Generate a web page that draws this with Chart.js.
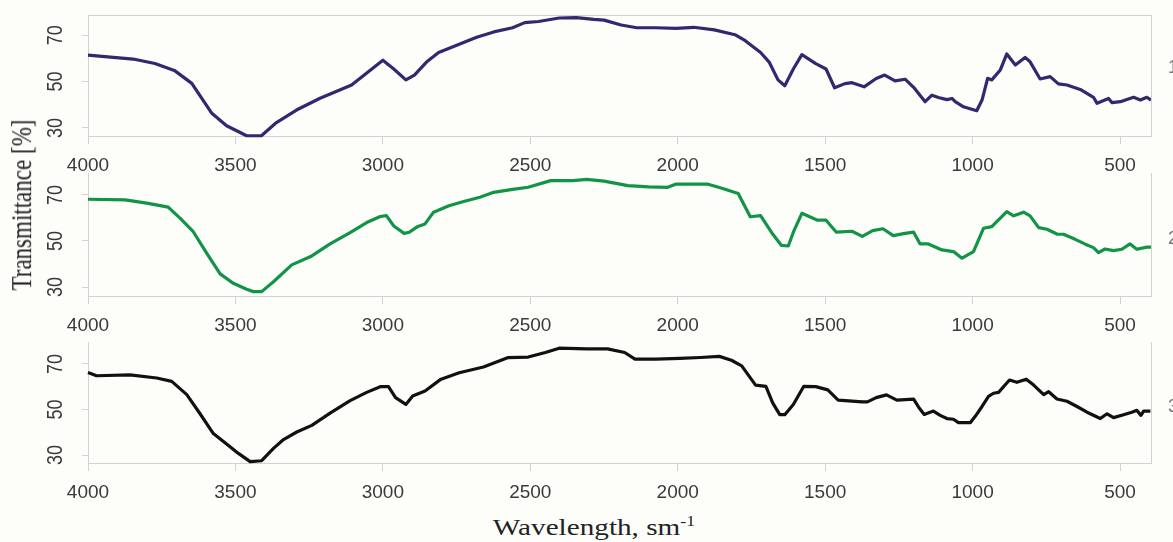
<!DOCTYPE html>
<html>
<head>
<meta charset="utf-8">
<script src="https://cdn.jsdelivr.net/npm/chart.js@4.4.1/dist/chart.umd.min.js"></script>
<style>
  html, body { margin: 0; padding: 0; background: #fdfdfa; overflow: hidden; }
  body { width: 1173px; height: 542px; position: relative; }
  .panel { position: absolute; left: 0; width: 1173px; }
  #ytitle {
    position: absolute; left: 22px; top: 205px; white-space: nowrap;
    font: 23px "Liberation Serif", "Times New Roman", serif; color: #222; line-height: 1;
    transform: translate(-50%, -50%) scaleX(1.27) rotate(-90deg);
  }
  #xtitle {
    position: absolute; left: 594px; top: 516px; white-space: nowrap;
    font: 23px "Liberation Serif", "Times New Roman", serif; color: #222; line-height: 1;
    transform: translateX(-50%) scaleX(1.27);
  }
  #xtitle sup { font-size: 14px; line-height: 0; vertical-align: 9px; }
  .tag {
    position: absolute; left: 1168px; font: 18px "Liberation Sans", Arial, sans-serif; color: #777;
  }
</style>
</head>
<body>
<div class="panel" style="top:0;height:176px"><canvas id="c1"></canvas></div>
<div class="panel" style="top:173px;height:163px"><canvas id="c2"></canvas></div>
<div class="panel" style="top:342px;height:161px"><canvas id="c3"></canvas></div>
<div id="ytitle">Transmittance [%]</div>
<div id="xtitle">Wavelength, sm<sup>-1</sup></div>
<div class="tag" style="top:57px">1</div>
<div class="tag" style="top:228px">2</div>
<div class="tag" style="top:396px">3</div>
<script>
// tick values
const xTicks = [4000, 3500, 3000, 2500, 2000, 1500, 1000, 500];
const yTicks = [30, 50, 70];

// sample 1 (top, purple)
const wn1 = [4000, 3847, 3773, 3705, 3648, 3580, 3530, 3462, 3412, 3361, 3293, 3213, 3106, 3000,
  2963, 2922, 2893, 2852, 2811, 2741, 2682, 2624, 2560, 2519, 2472, 2402, 2344, 2285, 2250, 2192,
  2139, 2075, 2005, 1946, 1876, 1806, 1771, 1719, 1690, 1660, 1637, 1608, 1579, 1532, 1497, 1468,
  1433, 1409, 1368, 1327, 1298, 1263, 1229, 1200, 1161, 1138, 1116, 1087, 1070, 1059, 1031, 986,
  968, 949, 935, 906, 884, 855, 822, 805, 771, 737, 709, 680, 635, 590, 578, 539, 527, 499, 454,
  431, 409, 395];
const tr1 = [61.4, 59.7, 57.8, 54.6, 49.2, 36.3, 30.9, 26.6, 26.6, 32.3, 37.7, 42.8, 48.5, 59.2,
  55.4, 50.7, 52.8, 58.4, 62.5, 66.1, 69.1, 71.4, 73.2, 75.4, 75.9, 77.4, 77.6, 76.8, 76.5, 74.4,
  73.2, 73.2, 72.9, 73.4, 72.3, 70.2, 67.6, 62.5, 58.4, 50.7, 48.2, 55.4, 61.6, 57.7, 55.4, 47.3,
  49.1, 49.5, 47.7, 51.3, 52.8, 50.3, 51.0, 47.5, 41.3, 44.1, 43.1, 42.2, 42.7, 41.3, 39.1, 37.4,
  42.0, 51.4, 50.7, 55.0, 61.9, 57.1, 60.4, 58.5, 51.1, 52.1, 49.0, 48.5, 46.6, 43.2, 40.6, 42.7,
  40.9, 41.3, 43.2, 42.0, 43.2, 42.0];

// sample 2 (middle, green)
const wn2 = [4000, 3874, 3801, 3728, 3688, 3643, 3597, 3552, 3507, 3462, 3439, 3411, 3371, 3309,
  3241, 3179, 3111, 3055, 3009, 2988, 2963, 2928, 2910, 2881, 2857, 2828, 2776, 2729, 2671, 2624,
  2566, 2507, 2431, 2355, 2309, 2250, 2169, 2098, 2034, 2005, 1900, 1853, 1795, 1754, 1719, 1678,
  1649, 1625, 1608, 1579, 1526, 1497, 1462, 1409, 1374, 1339, 1304, 1269, 1234, 1200, 1178, 1150,
  1104, 1065, 1036, 997, 963, 935, 884, 861, 827, 805, 776, 748, 714, 692, 652, 618, 590, 573, 551,
  522, 494, 466, 443, 409, 395];
const tr2 = [68.1, 67.8, 66.4, 64.7, 59.9, 54.0, 44.6, 35.7, 31.6, 29.0, 28.0, 28.0, 32.3, 39.6,
  43.5, 48.7, 53.6, 58.0, 60.6, 61.0, 56.5, 53.3, 53.8, 56.3, 57.4, 62.5, 65.3, 67.0, 69.0, 71.1,
  72.3, 73.3, 76.2, 76.2, 76.7, 76.0, 74.0, 73.5, 73.3, 74.7, 74.7, 73.0, 70.6, 60.5, 61.0, 53.0,
  48.1, 47.8, 53.8, 62.0, 59.0, 59.0, 53.8, 54.2, 52.0, 54.5, 55.3, 52.3, 53.2, 53.8, 48.7, 48.7,
  46.1, 45.4, 42.5, 45.4, 55.5, 56.2, 62.7, 60.9, 62.5, 60.9, 55.8, 55.1, 53.0, 52.9, 50.7, 48.6,
  47.1, 44.9, 46.5, 45.8, 46.4, 48.7, 46.4, 47.3, 47.3];

// sample 3 (bottom, black)
const wn3 = [4000, 3971, 3858, 3767, 3716, 3665, 3620, 3575, 3530, 3490, 3450, 3411, 3371, 3337,
  3292, 3241, 3179, 3111, 3055, 3009, 2981, 2957, 2922, 2899, 2857, 2805, 2741, 2659, 2577, 2507,
  2449, 2402, 2309, 2238, 2180, 2145, 2075, 1993, 1923, 1859, 1818, 1783, 1736, 1701, 1678, 1654,
  1637, 1608, 1573, 1532, 1491, 1456, 1374, 1357, 1327, 1292, 1257, 1200, 1183, 1164, 1133, 1110,
  1087, 1065, 1048, 1008, 991, 968, 946, 929, 912, 875, 850, 818, 793, 759, 742, 714, 680, 646, 612,
  567, 544, 522, 488, 460, 443, 429, 420, 397];
const tr3 = [66.2, 64.8, 65.2, 63.8, 62.3, 56.5, 48.1, 39.4, 34.8, 30.7, 27.1, 27.5, 32.9, 36.8,
  40.1, 43.0, 48.4, 53.9, 57.5, 60.0, 60.0, 55.2, 52.2, 55.9, 58.1, 63.1, 66.1, 68.6, 72.7, 73.0,
  75.0, 76.9, 76.6, 76.6, 75.0, 72.1, 72.1, 72.4, 72.8, 73.3, 71.6, 69.1, 60.7, 60.1, 52.9, 47.7,
  47.7, 52.2, 60.1, 60.0, 58.6, 54.1, 53.3, 53.3, 55.2, 56.4, 54.1, 54.5, 51.0, 47.8, 49.3, 47.4,
  46.0, 45.7, 44.2, 44.2, 47.0, 51.3, 55.7, 57.1, 57.5, 62.9, 61.9, 63.3, 60.7, 56.5, 57.8, 54.6,
  53.6, 51.3, 48.8, 46.0, 48.1, 46.4, 47.7, 48.8, 49.6, 47.4, 49.3, 49.3];

const axisGrey = '#d2d2d2';
const textGrey = '#3a3a3a';

// right frame line, top line on first panel, rotated y tick labels
const panelDecor = {
  id: 'panelDecor',
  afterDraw(chart, args, opts) {
    const { ctx, chartArea: a } = chart;
    const y = chart.scales.y;
    ctx.save();
    ctx.strokeStyle = axisGrey;
    ctx.lineWidth = 1;
    ctx.beginPath();
    ctx.moveTo(a.right + 0.5, a.top);
    ctx.lineTo(a.right + 0.5, a.bottom);
    if (opts.top) {
      ctx.moveTo(a.left, a.top + 0.5);
      ctx.lineTo(a.right + 1, a.top + 0.5);
    }
    ctx.stroke();

    ctx.fillStyle = textGrey;
    ctx.font = '18px "Liberation Sans", Arial, sans-serif';
    ctx.textAlign = 'center';
    ctx.textBaseline = 'middle';
    y.ticks.forEach(t => {
      ctx.save();
      ctx.translate(y.right - 32, y.getPixelForValue(t.value));
      ctx.scale(1.27, 1);
      ctx.rotate(-Math.PI / 2);
      ctx.fillText(String(t.value), 0, 0);
      ctx.restore();
    });
    ctx.restore();
  }
};

function makePanel(id, wn, tr, color, yMin, yMax, padTop, drawTop) {
  const pts = wn.map((w, i) => ({ x: w, y: tr[i] }));
  return new Chart(document.getElementById(id), {
    type: 'line',
    data: {
      datasets: [{
        data: pts,
        borderColor: color,
        borderWidth: 3.2,
        pointRadius: 0,
        tension: 0,
        fill: false,
        clip: false,
        borderJoinStyle: 'round'
      }]
    },
    options: {
      responsive: true,
      maintainAspectRatio: false,
      animation: false,
      layout: { padding: { top: padTop, right: 22, left: 0, bottom: 0 } },
      plugins: {
        legend: { display: false },
        tooltip: { enabled: false },
        panelDecor: { top: drawTop }
      },
      scales: {
        x: {
          type: 'linear',
          reverse: true,
          min: 395,
          max: 4000,
          afterBuildTicks: s => { s.ticks = xTicks.map(v => ({ value: v })); },
          afterFit: s => { s.height = 40; },
          border: { color: axisGrey },
          grid: { drawOnChartArea: false, tickLength: 8, color: axisGrey },
          ticks: {
            padding: 10,
            maxRotation: 0,
            color: textGrey,
            font: { family: '"Liberation Sans", Arial, sans-serif', size: 19 },
            callback: v => String(v)
          }
        },
        y: {
          min: yMin,
          max: yMax,
          afterBuildTicks: s => { s.ticks = yTicks.map(v => ({ value: v })); },
          afterFit: s => { s.width = 88; },
          border: { color: axisGrey },
          grid: { drawOnChartArea: false, tickLength: 6, color: axisGrey },
          ticks: { display: false }
        }
      }
    },
    plugins: [panelDecor]
  });
}

makePanel('c1', wn1, tr1, '#35266f', 26.5, 78.7, 15, true);
makePanel('c2', wn2, tr2, '#129447', 26.1, 79.5, 0, false);
makePanel('c3', wn3, tr3, '#111111', 26.5, 79.6, 0, false);
</script>
</body>
</html>
